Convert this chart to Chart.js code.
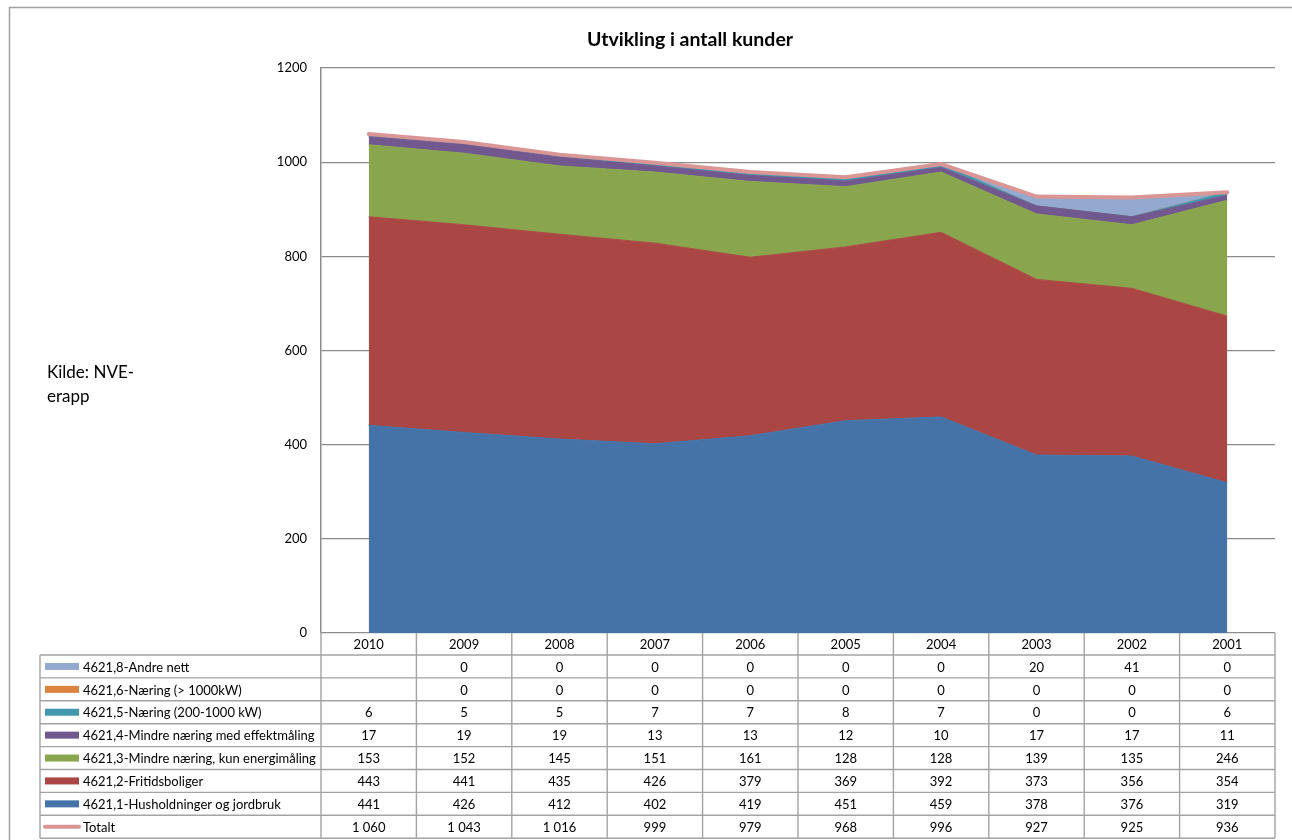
<!DOCTYPE html>
<html lang="no">
<head>
<meta charset="utf-8">
<title>Utvikling i antall kunder</title>
<script src="https://cdn.jsdelivr.net/npm/chart.js@4.4.1/dist/chart.umd.min.js"></script>
<style>
    html, body { margin: 0; padding: 0; background: #fff; }
    #wrap { position: relative; width: 1292px; height: 840px; }
</style>
</head>
<body>
<div id="wrap"><canvas id="kunderChart"></canvas></div>
<script>
'use strict';

// Data (table below the chart)
const years = ['2010', '2009', '2008', '2007', '2006', '2005', '2004', '2003', '2002', '2001'];
const andreNett = [null, 0, 0, 0, 0, 0, 0, 20, 41, 0];
const naeringOver1000 = [null, 0, 0, 0, 0, 0, 0, 0, 0, 0];
const naering200til1000 = [6, 5, 5, 7, 7, 8, 7, 0, 0, 6];
const mindreEffekt = [17, 19, 19, 13, 13, 12, 10, 17, 17, 11];
const mindreEnergi = [153, 152, 145, 151, 161, 128, 128, 139, 135, 246];
const fritidsboliger = [443, 441, 435, 426, 379, 369, 392, 373, 356, 354];
const husholdninger = [441, 426, 412, 402, 419, 451, 459, 378, 376, 319];
const totalt = [1060, 1043, 1016, 999, 979, 968, 996, 927, 925, 936];
const yTicks = [0, 200, 400, 600, 800, 1000, 1200];

const FONT = 'Lato, "Open Sans", sans-serif';
const GRID = '#8c8c8c';
const TABLE_LINE = '#a3a3a3';

// stacked areas, bottom to top
const areaSeries = [
    { label: '4621,1-Husholdninger og jordbruk', data: husholdninger, color: '#4572A7' },
    { label: '4621,2-Fritidsboliger', data: fritidsboliger, color: '#AA4643' },
    { label: '4621,3-Mindre næring, kun energimåling', data: mindreEnergi, color: '#89A54E' },
    { label: '4621,4-Mindre næring med effektmåling', data: mindreEffekt, color: '#71588F' },
    { label: '4621,5-Næring (200-1000 kW)', data: naering200til1000, color: '#4198AF' },
    { label: '4621,6-Næring (> 1000kW)', data: naeringOver1000, color: '#DB843D' },
    { label: '4621,8-Andre nett', data: andreNett, color: '#93A9CF' }
];
const totalSeries = { label: 'Totalt', data: totalt, color: '#D99694' };

function formatNumber(value) {
    if (value === null || value === undefined) return '';
    return String(value).replace(/\B(?=(\d{3})+(?!\d))/g, ' ');
}

const datasets = areaSeries.map((s, i) => ({
    label: s.label,
    data: s.data.map((v) => v ?? 0),
    backgroundColor: s.color,
    borderColor: s.color,
    borderWidth: 1,
    pointRadius: 0,
    tension: 0,
    fill: i === 0 ? 'origin' : '-1',
    stack: 'areas',
    order: 1
}));
datasets.push({
    label: totalSeries.label,
    data: totalSeries.data,
    borderColor: totalSeries.color,
    backgroundColor: totalSeries.color,
    borderWidth: 4,
    borderCapStyle: 'round',
    pointRadius: 0,
    tension: 0,
    fill: false,
    stack: 'total',
    order: 0
});

// title, source note, outer frame and the data table under the plot
const decorPlugin = {
    id: 'decor',
    afterDraw(chart) {
        const { ctx, chartArea, scales: { x } } = chart;
        const colW = (chartArea.right - chartArea.left) / years.length;
        const top = chartArea.bottom;
        const headerH = 22;
        const rowH = 22.9;
        const tableLeft = 40;
        const rows = [...areaSeries].reverse().concat([totalSeries]);
        const bottom = top + headerH + rows.length * rowH;

        ctx.save();

        // outer frame
        ctx.strokeStyle = '#a0a0a0';
        ctx.lineWidth = 1.5;
        ctx.beginPath();
        ctx.moveTo(9.5, 840);
        ctx.lineTo(9.5, 7.5);
        ctx.lineTo(1292, 7.5);
        ctx.stroke();

        // title
        ctx.fillStyle = '#000';
        ctx.textAlign = 'center';
        ctx.textBaseline = 'middle';
        ctx.font = `bold 19.5px ${FONT}`;
        ctx.fillText('Utvikling i antall kunder', 690, 40);

        // source note
        ctx.textAlign = 'left';
        ctx.font = `17px ${FONT}`;
        ctx.fillText('Kilde: NVE-', 47, 373);
        ctx.fillText('erapp', 47, 397);

        // table lines
        ctx.strokeStyle = TABLE_LINE;
        ctx.lineWidth = 1.4;
        ctx.beginPath();
        for (let i = 0; i <= years.length; i += 1) {
            const lx = chartArea.left + i * colW;
            ctx.moveTo(lx, top);
            ctx.lineTo(lx, bottom);
        }
        ctx.moveTo(chartArea.right, top);
        ctx.lineTo(chartArea.right, bottom);
        ctx.moveTo(tableLeft, top + headerH);
        ctx.lineTo(tableLeft, bottom);
        for (let r = 0; r <= rows.length; r += 1) {
            const ly = top + headerH + r * rowH;
            ctx.moveTo(tableLeft, ly);
            ctx.lineTo(chartArea.right, ly);
        }
        ctx.stroke();

        // category header
        ctx.font = `13px ${FONT}`;
        ctx.textAlign = 'center';
        years.forEach((year, i) => {
            ctx.fillText(year, x.getPixelForValue(i), top + headerH / 2 + 1);
        });

        // rows
        rows.forEach((row, r) => {
            const cy = top + headerH + r * rowH + rowH / 2 + 1;
            if (row === totalSeries) {
                ctx.strokeStyle = row.color;
                ctx.lineWidth = 4;
                ctx.lineCap = 'round';
                ctx.beginPath();
                ctx.moveTo(45, cy - 1);
                ctx.lineTo(79, cy - 1);
                ctx.stroke();
            } else {
                ctx.fillStyle = row.color;
                ctx.fillRect(45, cy - 4.5, 34, 7);
            }
            ctx.fillStyle = '#000';
            ctx.textAlign = 'left';
            ctx.fillText(row.label, 83, cy);
            ctx.textAlign = 'center';
            row.data.forEach((v, i) => {
                ctx.fillText(formatNumber(v), x.getPixelForValue(i), cy);
            });
        });

        ctx.restore();
    }
};

new Chart(document.getElementById('kunderChart'), {
    type: 'line',
    data: { labels: years, datasets },
    options: {
        responsive: true,
        maintainAspectRatio: false,
        animation: false,
        layout: {
            padding: { left: 0, top: 68, right: 17, bottom: 207 }
        },
        scales: {
            x: {
                display: false,
                offset: true
            },
            y: {
                stacked: true,
                min: 0,
                max: 1200,
                afterFit(scale) {
                    scale.width = 321;
                },
                afterBuildTicks(scale) {
                    scale.ticks = yTicks.map((value) => ({ value }));
                },
                grid: {
                    color: GRID,
                    lineWidth: 1.2,
                    drawTicks: false
                },
                border: {
                    display: true,
                    color: GRID,
                    width: 1.5
                },
                ticks: {
                    padding: 14,
                    color: '#000',
                    font: { family: FONT, size: 13 },
                    callback: (value) => String(value)
                }
            }
        },
        plugins: {
            legend: { display: false },
            title: { display: false },
            tooltip: { enabled: false }
        }
    },
    plugins: [decorPlugin]
});
</script>
</body>
</html>
